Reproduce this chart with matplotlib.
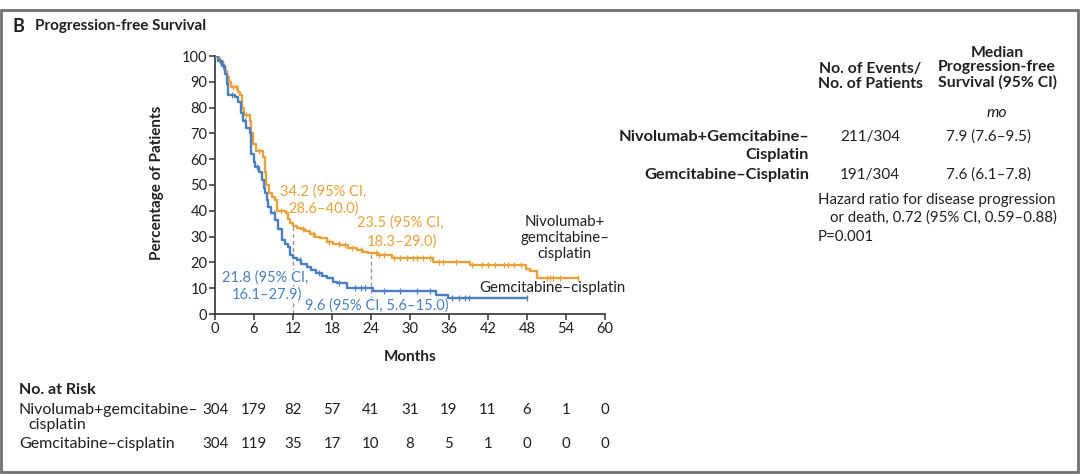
import numpy as np
import matplotlib
matplotlib.use("Agg")
import matplotlib.pyplot as plt
from matplotlib.patches import Rectangle
from matplotlib.transforms import blended_transform_factory

plt.rcParams['font.family'] = ['Lato', 'DejaVu Sans']

# Kaplan-Meier step points (months, % progression-free)
t_nivo = [0, 0.4, 0.8, 1.2, 1.6, 1.9, 2.2, 2.5, 3.6, 3.9, 4.2, 4.5, 5.4, 5.6, 5.9, 6.3,
          7.4, 7.7, 7.9, 8.3, 8.7, 9.2, 9.6, 10.9, 11.3, 11.6, 12.0, 12.6, 13.2, 13.8,
          14.6, 15.4, 16.2, 17.2, 18.2, 19.2, 20.5, 21.8, 22.8, 23.6, 25.0, 27.3, 33.5,
          39.2, 47.8, 48.4, 49.5]
s_nivo = [100, 99, 98, 96, 94, 92, 90, 88, 86, 85, 80, 77, 75, 70, 66, 63,
          61, 55, 50, 47, 45.5, 44, 40, 39, 37, 35.3, 34.2, 33.5, 33, 32,
          31, 30, 29.4, 28, 27.3, 26.7, 25.5, 24.8, 24, 23.5, 22.9, 21.8, 20.3,
          19.0, 17.5, 16.5, 14]
end_nivo = 55.8
cens_nivo = [0.6, 1.4, 2.8, 3.2, 4.8, 6.8, 10.2, 13.5, 15.0, 17.5, 19.0, 20.0, 21.0,
             22.5, 24.8, 25.3, 26.0, 27.5, 28.5, 29.5, 30.5, 31.0, 32.0, 33.0, 34.5,
             35.0, 37.0, 39.5, 41.0, 42.0, 43.0, 44.5, 45.0, 46.0, 47.0, 51.0, 51.5,
             52.0, 53.0, 55.8]

t_gc = [0, 0.5, 1.0, 1.5, 1.8, 2.0, 3.0, 3.6, 4.0, 4.3, 4.8, 5.4, 5.6, 6.0, 6.2, 6.7,
        7.2, 7.5, 7.7, 8.0, 8.2, 8.6, 9.2, 9.7, 10.3, 10.8, 11.3, 11.5, 12.0, 12.6,
        13.3, 14.1, 14.8, 15.6, 16.4, 17.2, 18.2, 18.7, 20.3, 24.3, 34.0, 35.8]
s_gc = [100, 98, 96, 93, 89, 85, 84, 82, 78, 75, 72, 70, 62, 59, 57, 55,
        52, 49, 47, 44, 41.5, 39, 36.4, 33, 28.7, 27, 26, 23, 21.8, 21,
        19.5, 18.3, 17, 15.8, 14.8, 13.8, 12.5, 11.9, 10, 8.9, 7.4, 6.1]
end_gc = 48.0
cens_gc = [0.7, 1.3, 2.6, 4.6, 6.5, 9.0, 13.0, 16.0, 19.0, 21.5, 22.5, 23.0, 26.0,
           28.5, 31.0, 33.0, 36.5, 37.5, 38.5, 39.0, 48.0]

months_ticks = np.arange(0, 61, 6)
risk_nivo = [304, 179, 82, 57, 41, 31, 19, 11, 6, 1, 0]
risk_gc = [304, 119, 35, 17, 10, 8, 5, 1, 0, 0, 0]

ORANGE = '#E9A23B'
BLUE = '#4A7FC1'
TXT = '#231F20'
W, H = 1080, 474


def fx(px):
    return px / W


def fy(py):
    return 1 - py / H


def step_val(t, s, x):
    idx = np.searchsorted(t, x, side='right') - 1
    return np.asarray(s)[idx]


fig = plt.figure(figsize=(W / 100, H / 100), dpi=100)

# panel frame
fig.patches.append(Rectangle((fx(1), fy(472)), fx(1077), fy(10) - fy(472),
                             transform=fig.transFigure, fill=False,
                             edgecolor='#707070', linewidth=2))

fig.text(fx(12), fy(26), 'B', fontsize=13, fontweight='bold', color=TXT, va='center')
fig.text(fx(35), fy(26), 'Progression-free Survival', fontsize=11,
         fontweight='bold', color=TXT, va='center')

ax = fig.add_axes([fx(215), fy(314), fx(605) - fx(215), fy(56) - fy(314)])
for t, s, end, cens, col in [(t_nivo, s_nivo, end_nivo, cens_nivo, ORANGE),
                             (t_gc, s_gc, end_gc, cens_gc, BLUE)]:
    tt = list(t) + [end]
    ss = list(s) + [s[-1]]
    ax.step(tt, ss, where='post', color=col, lw=1.7, zorder=3)
    ax.plot(cens, step_val(t, s, cens), ls='none', marker='|', ms=5, mew=0.9,
            color=col, zorder=3)

# median landmarks
ax.plot([12, 12], [0, 34.2], ls=(0, (3, 2)), color='#9a9a9a', lw=1, zorder=1)
ax.plot([24, 24], [0, 23.5], ls=(0, (3, 2)), color='#9a9a9a', lw=1, zorder=1)

ax.set_xlim(0, 60)
ax.set_ylim(0, 100)
ax.set_xticks(months_ticks)
ax.set_yticks(np.arange(0, 101, 10))
for sp in ['top', 'right']:
    ax.spines[sp].set_visible(False)
for sp in ['left', 'bottom']:
    ax.spines[sp].set_color('#333333')
    ax.spines[sp].set_linewidth(1.2)
ax.tick_params(length=4, width=1.1, color='#333333', labelsize=10.5,
               labelcolor=TXT, pad=1.5)

bb = dict(facecolor='white', edgecolor='none', pad=0.3)
fs = 10.5
ax.text(10.0, 47.4, '34.2 (95% CI,', color=ORANGE, fontsize=fs, va='center', zorder=2)
ax.text(11.3, 41.0, '28.6–40.0)', color=ORANGE, fontsize=fs, va='center', zorder=2)
ax.text(21.8, 35.3, '23.5 (95% CI,', color=ORANGE, fontsize=fs, va='center', zorder=2)
ax.text(23.3, 28.0, '18.3–29.0)', color=ORANGE, fontsize=fs, va='center', zorder=2)
ax.text(1.0, 14.0, '21.8 (95% CI,', color=BLUE, fontsize=fs, va='center', zorder=2,
        bbox=bb)
ax.text(2.6, 7.4, '16.1–27.9)', color=BLUE, fontsize=fs, va='center', zorder=2,
        bbox=bb)
ax.text(13.8, 3.1, '9.6 (95% CI, 5.6–15.0)', color=BLUE, fontsize=fs, va='center',
        zorder=2, bbox=bb)
ax.text(53.8, 29.5, 'Nivolumab+\ngemcitabine–\ncisplatin', color=TXT, fontsize=10.8,
        ha='center', va='center', linespacing=1.15, clip_on=False)
ax.text(40.6, 10.0, 'Gemcitabine–cisplatin', color=TXT, fontsize=10.8, va='center',
        clip_on=False)

fig.text(fx(410), fy(357), 'Months', fontsize=11, fontweight='bold', color=TXT,
         ha='center', va='center')
fig.text(fx(157), fy(183), 'Percentage of Patients', fontsize=11, fontweight='bold',
         color=TXT, ha='center', va='center', rotation=90)

# number at risk, aligned with the month ticks
tr = blended_transform_factory(ax.transData, fig.transFigure)
for m, a, b in zip(months_ticks, risk_nivo, risk_gc):
    ax.text(m, fy(410), str(a), transform=tr, ha='center', va='center',
            fontsize=10.8, color=TXT, clip_on=False)
    ax.text(m, fy(444), str(b), transform=tr, ha='center', va='center',
            fontsize=10.8, color=TXT, clip_on=False)
fig.text(fx(19), fy(390), 'No. at Risk', fontsize=11.5, fontweight='bold', color=TXT,
         va='center')
fig.text(fx(19), fy(410), 'Nivolumab+gemcitabine–', fontsize=11.5, color=TXT,
         va='center')
fig.text(fx(28), fy(425), 'cisplatin', fontsize=11.5, color=TXT, va='center')
fig.text(fx(19), fy(444), 'Gemcitabine–cisplatin', fontsize=11.5, color=TXT,
         va='center')

# right-hand summary table
fs2 = 11.3
fig.text(fx(870), fy(76.5), 'No. of Events/\nNo. of Patients', fontsize=fs2,
         fontweight='bold', color=TXT, ha='center', va='center', linespacing=1.05)
fig.text(fx(997), fy(67.5), 'Median\nProgression-free\nSurvival (95% CI)',
         fontsize=fs2, fontweight='bold', color=TXT, ha='center', va='center',
         linespacing=1.05)
fig.text(fx(997), fy(113), 'mo', fontsize=fs2, style='italic', color=TXT,
         ha='center', va='center')
fig.text(fx(809), fy(137), 'Nivolumab+Gemcitabine–', fontsize=11.8, fontweight='bold',
         color=TXT, ha='right', va='center')
fig.text(fx(809), fy(155), 'Cisplatin', fontsize=11.8, fontweight='bold', color=TXT,
         ha='right', va='center')
fig.text(fx(809), fy(175), 'Gemcitabine–Cisplatin', fontsize=11.8, fontweight='bold',
         color=TXT, ha='right', va='center')
fig.text(fx(870), fy(137), '211/304', fontsize=11, color=TXT, ha='center', va='center')
fig.text(fx(870), fy(175), '191/304', fontsize=11, color=TXT, ha='center', va='center')
fig.text(fx(988), fy(137), '7.9 (7.6–9.5)', fontsize=11, color=TXT, ha='center',
         va='center')
fig.text(fx(988), fy(175), '7.6 (6.1–7.8)', fontsize=11, color=TXT, ha='center',
         va='center')
fig.text(fx(818), fy(200), 'Hazard ratio for disease progression', fontsize=10.8,
         color=TXT, va='center')
fig.text(fx(1057), fy(218), 'or death, 0.72 (95% CI, 0.59–0.88)', fontsize=10.8,
         color=TXT, ha='right', va='center')
fig.text(fx(818), fy(237), 'P=0.001', fontsize=10.8, color=TXT, va='center')

fig.savefig('out.png', dpi=100)
